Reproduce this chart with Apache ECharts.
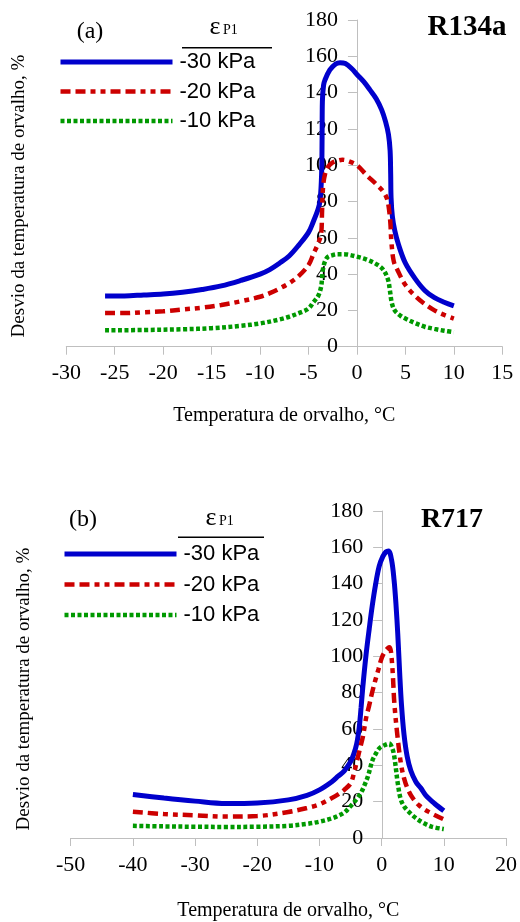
<!DOCTYPE html>
<html><head><meta charset="utf-8">
<script src="https://cdn.jsdelivr.net/npm/echarts@6/dist/echarts.min.js"></script>
<style>html,body{margin:0;padding:0;background:#fff}#c{width:520px;height:922px}</style>
</head><body><div id="c"></div>
<script>
// ---------- data ----------
const seriesNames = ['-30 kPa', '-20 kPa', '-10 kPa'];

// (a) R134a
const r134aX30 = [-26,-24,-22,-20,-18,-16,-14,-12,-10,-9,-8,-7,-6,-5,-4.5,-4,-3.8,-3.65,-3.6,-3.57,-3.45,-3.3,-2.8,-2.2,-1.75,-1.2,-0.5,0,0.7,1.34,2,2.55,2.95,3.25,3.42,3.48,3.52,3.65,3.9,4.3,5,6,7,8,9,10];
const r134aY30 = [28,28,28.5,29,30,31.5,33.5,36.5,40,42.5,46,50,56,63,69,76,81,95,115,135,144,147,152.5,155.8,156.5,156,153,150,146,141.5,136.5,130.5,124,117,108,95,82,72,64,56,46,37.5,31,27,24.5,22.5];
const r134aX20 = [-26,-24,-22,-20,-18,-16,-14,-12,-10,-9,-8,-7,-6,-5,-4.5,-4,-3.7,-3.6,-3.5,-3.3,-3,-2.5,-2,-1.5,-1,0,1,2,2.7,3.1,3.3,3.45,3.55,3.8,4.2,5,6,7,8,9,10];
const r134aY20 = [18.5,18.5,19,19.5,20.5,21.5,23,25,27.5,29.5,32,35,39,45,51,57,62,75,88,95,99,101.5,102.5,103,102.5,100,94.5,89.5,85.5,81.5,76,68,58,47,42,34,28,23.5,20,17.5,15.5];
const r134aX10 = [-26,-22,-18,-15,-12,-10,-8,-7,-6,-5,-4.5,-4,-3.7,-3.6,-3.5,-3.3,-3,-2.5,-2,-1.5,-1,0,1,2,2.7,3.2,3.4,3.6,3.9,4.5,5,6,7,8,9,10];
const r134aY10 = [9,9.2,9.6,10.2,11.5,12.8,15,16.5,18.5,21,24.5,28,33,38,43,47,49.5,50.5,51,51,50.8,49.6,48,45.5,42.5,37,31,24,20,17,15.5,13,11,9.8,8.8,8];

// (b) R717
const r717X30 = [-40,-35,-30,-25,-20,-15,-12,-10,-8,-7,-6,-5,-4.5,-4,-3.6,-3.3,-3,-2.5,-2,-1.5,-1,-0.4,0.2,0.7,1.1,1.6,2,2.3,2.6,2.9,3.2,3.6,4.1,4.7,5.5,6.3,7.1,8.5,10];
const r717Y30 = [24,22,20.3,19,19.3,21,23.5,26.5,31,34,37,42,46,52,61,72,84,101,115,128,139,149.5,155,157.5,158,153,142,129,112,91,73,57,45,37,31,27.5,23.5,19,15];
const r717X20 = [-40,-35,-30,-25,-20,-15,-12,-10,-8,-7,-6,-5,-4.5,-4,-3.5,-3,-2.5,-2,-1.5,-1,-0.5,0,0.5,1,1.3,1.7,2.05,2.55,3.1,3.6,4.2,5,6,7.5,10];
const r717Y20 = [14.5,13.2,12.5,11.8,12.1,14.3,16.5,18.5,22,24,26.5,30,35,42,49,56,66,73,80.5,87,93,99,102.5,104.5,105,95,74,56,41,33,27,22,18,14.5,10.3];
const r717X10 = [-40,-35,-30,-25,-20,-15,-12,-10,-8,-7,-6,-5,-4,-3.3,-2.7,-2.2,-1.5,-1,-0.4,0.4,1.2,1.7,2.05,2.6,3.1,3.7,4.5,5.5,6.6,8,10];
const r717Y10 = [6.7,6.4,6.2,6.1,6.2,6.7,7.8,9,10.8,12.2,14,17.5,21.5,25,29.5,34,42.5,46,49.3,51,52,49.5,44.5,30,21,17,14,11,8.5,6.3,4.9];

// axis ranges [min, max, interval]
const xRangeA = [-30, 15, 5];
const xRangeB = [-50, 20, 10];
const yRange = [0, 180, 20];

const zip = (xs, ys) => xs.map((x, i) => [x, ys[i]]);

// ---------- layout / styles ----------
const GRIDS = [
  { left: 66.3, top: 20, width: 436, height: 326.7 },
  { left: 70.7, top: 511, width: 436, height: 331.3 }
];
const SERIF = '"Liberation Serif","Times New Roman",serif';
const SANS = '"Liberation Sans",Arial,sans-serif';
const AXIS_GREY = '#BFBFBF';
const COLORS = ['#0000CC', '#CC0000', '#009900'];
const LINE_TYPES = ['solid', [10, 5, 10, 5, 5, 5, 5, 5], [4, 2.5]];
const LINE_WIDTHS = [5, 4.5, 4.5];

function xAxisOpt(grid, r, gap) {
  return {
    type: 'value', gridIndex: grid, min: r[0], max: r[1], interval: r[2],
    axisLine: { show: true, onZero: false, lineStyle: { color: AXIS_GREY, width: 1 } },
    axisTick: { show: true, length: 8, lineStyle: { color: AXIS_GREY } },
    axisLabel: { color: '#000', fontFamily: SERIF, fontSize: 22, margin: 16 },
    splitLine: { show: false },
    name: 'Temperatura de orvalho, °C', nameLocation: 'middle', nameGap: gap,
    nameTextStyle: { color: '#000', fontFamily: SERIF, fontSize: 20 }
  };
}
// y axis drawn at x = 0 of the value x axis (shift from the grid's left edge)
function yAxisOpt(grid, xr) {
  const shift = (0 - xr[0]) / (xr[1] - xr[0]) * GRIDS[grid].width;
  return {
    type: 'value', gridIndex: grid, min: yRange[0], max: yRange[1], interval: yRange[2],
    position: 'left', offset: -shift,
    axisLine: { show: true, onZero: false, lineStyle: { color: AXIS_GREY, width: 1 } },
    axisTick: { show: true, length: 9, lineStyle: { color: AXIS_GREY } },
    axisLabel: { color: '#000', fontFamily: SERIF, fontSize: 22, margin: 19 },
    splitLine: { show: false }
  };
}
function lineSeries(i, grid, data) {
  return {
    type: 'line', name: seriesNames[i], xAxisIndex: grid, yAxisIndex: grid,
    data: data, symbol: 'none', smooth: 0.35,
    lineStyle: { color: COLORS[i], width: LINE_WIDTHS[i], type: LINE_TYPES[i], cap: 'butt' },
    itemStyle: { color: COLORS[i] }, z: 3
  };
}
function legendOpt(left, top, gap) {
  return {
    orient: 'vertical', left: left, top: top, padding: 0,
    itemWidth: 112, itemHeight: 22, itemGap: gap,
    data: seriesNames, selectedMode: false,
    textStyle: { color: '#000', fontFamily: SANS, fontSize: 22, lineHeight: 22, padding: [0, 0, 0, 2] },
    itemStyle: { opacity: 0 },
    lineStyle: { width: 'inherit' }
  };
}
function txt(x, y, text, font, align, rot) {
  return { type: 'text', x: x, y: y, rotation: rot || 0, z: 10,
    style: { text: text, font: font, fill: '#000', align: align || 'center', verticalAlign: 'middle' } };
}

const option = {
  backgroundColor: '#fff',
  animation: false,
  grid: GRIDS,
  xAxis: [xAxisOpt(0, xRangeA, 59), xAxisOpt(1, xRangeB, 63)],
  yAxis: [yAxisOpt(0, xRangeA), yAxisOpt(1, xRangeB)],
  legend: [legendOpt(58, 51, 7.5), legendOpt(62, 543, 8.5)],
  series: [
    lineSeries(0, 0, zip(r134aX30, r134aY30)),
    lineSeries(1, 0, zip(r134aX20, r134aY20)),
    lineSeries(2, 0, zip(r134aX10, r134aY10)),
    lineSeries(0, 1, zip(r717X30, r717Y30)),
    lineSeries(1, 1, zip(r717X20, r717Y20)),
    lineSeries(2, 1, zip(r717X10, r717Y10))
  ],
  graphic: [
    txt(90, 32, '(a)', '24px ' + SERIF),
    txt(467, 28, 'R134a', 'bold 29px ' + SERIF),
    txt(215, 27, 'ε', '26px ' + SERIF),
    txt(223, 30, 'P1', '14px ' + SERIF, 'left'),
    { type: 'line', shape: { x1: 182, y1: 47.7, x2: 272, y2: 47.7 }, style: { stroke: '#000', lineWidth: 1.5 } },
    txt(19, 196, 'Desvio da temperatura de orvalho, %', '19px ' + SERIF, 'center', Math.PI / 2),

    txt(83, 520, '(b)', '24px ' + SERIF),
    txt(452, 520, 'R717', 'bold 28px ' + SERIF),
    txt(211, 518, 'ε', '26px ' + SERIF),
    txt(219, 521, 'P1', '14px ' + SERIF, 'left'),
    { type: 'line', shape: { x1: 178, y1: 537.3, x2: 264, y2: 537.3 }, style: { stroke: '#000', lineWidth: 1.5 } },
    txt(24, 689, 'Desvio da temperatura de orvalho, %', '19px ' + SERIF, 'center', Math.PI / 2)
  ]
};
const chart = echarts.init(document.getElementById('c'), null, { renderer: 'canvas' });
chart.setOption(option);
</script></body></html>
